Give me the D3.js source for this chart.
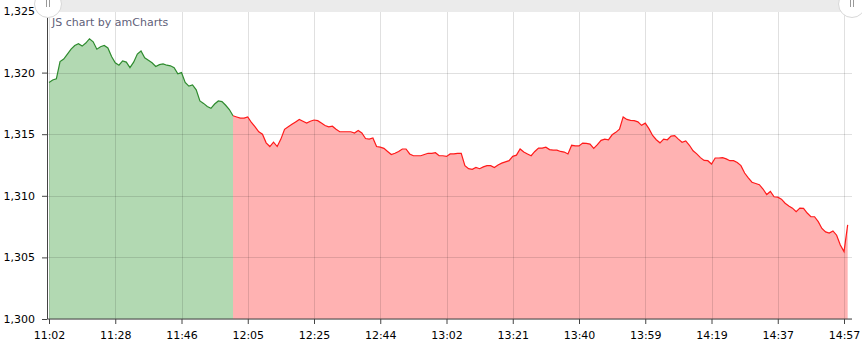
<!DOCTYPE html>
<html>
<head>
<meta charset="utf-8">
<script src="https://cdn.jsdelivr.net/npm/d3@7/dist/d3.min.js"></script>
<style>
  body { margin: 0; background: #fff; }
  svg text { font-family: "DejaVu Sans", Verdana, sans-serif; font-size: 11px; }
</style>
</head>
<body>
<div class="chart"></div>
<script>
// x-axis labels, one every 18 points
const tickLabels = ['11:02', '11:28', '11:46', '12:05', '12:25', '12:44', '13:02',
                    '13:21', '13:40', '13:59', '14:19', '14:37', '14:57'];
const tickEvery = 18;

// yAxis ticks
const yTicks = [1300, 1305, 1310, 1315, 1320, 1325];

// price per point
const prices = [
  1319.2, 1319.4, 1319.5, 1320.9, 1321.1, 1321.5, 1321.9, 1322.2, 1322.35, 1322.15,
  1322.4, 1322.75, 1322.5, 1321.9, 1322.1, 1322.2, 1322.0, 1321.3, 1320.8, 1320.6,
  1320.95, 1320.85, 1320.4, 1320.85, 1321.5, 1321.75, 1321.2, 1321.0, 1320.8, 1320.5,
  1320.65, 1320.7, 1320.6, 1320.55, 1320.4, 1319.9, 1320.0, 1319.2, 1318.9, 1319.0,
  1318.6, 1317.7, 1317.5, 1317.25, 1317.1, 1317.45, 1317.7, 1317.65, 1317.35, 1317.0,
  1316.5, 1316.4, 1316.3, 1316.3, 1316.4, 1315.95, 1315.6, 1315.2, 1315.0, 1314.3,
  1314.0, 1314.35, 1314.0, 1314.6, 1315.4, 1315.6, 1315.8, 1316.0, 1316.2, 1316.05,
  1315.9, 1316.05, 1316.15, 1316.1, 1315.9, 1315.7, 1315.6, 1315.65, 1315.4, 1315.2,
  1315.2, 1315.2, 1315.2, 1315.1, 1315.3, 1315.1, 1314.65, 1314.6, 1314.7, 1314.0,
  1313.95, 1313.85, 1313.6, 1313.35, 1313.45, 1313.6, 1313.8, 1313.8, 1313.4, 1313.25,
  1313.25, 1313.25, 1313.35, 1313.45, 1313.45, 1313.5, 1313.25, 1313.25, 1313.2, 1313.4,
  1313.4, 1313.45, 1313.45, 1312.45, 1312.2, 1312.15, 1312.3, 1312.2, 1312.35, 1312.45,
  1312.45, 1312.3, 1312.5, 1312.65, 1312.75, 1312.85, 1313.2, 1313.3, 1313.8, 1313.55,
  1313.4, 1313.25, 1313.6, 1313.87, 1313.87, 1313.95, 1313.75, 1313.7, 1313.7, 1313.6,
  1313.55, 1313.4, 1314.1, 1314.05, 1314.05, 1314.28, 1314.25, 1314.2, 1313.85, 1314.15,
  1314.5, 1314.6, 1314.55, 1314.95, 1315.15, 1315.4, 1316.4, 1316.2, 1316.12, 1316.1,
  1316.0, 1315.72, 1315.9, 1315.45, 1314.9, 1314.55, 1314.3, 1314.6, 1314.55, 1314.85,
  1314.88, 1314.6, 1314.35, 1314.45, 1314.1, 1313.65, 1313.4, 1313.1, 1312.87, 1312.85,
  1312.58, 1313.07, 1313.07, 1313.1, 1313.0, 1312.85, 1312.85, 1312.7, 1312.45, 1311.85,
  1311.45, 1311.1, 1311.0, 1310.9, 1310.55, 1310.1, 1310.35, 1309.92, 1309.89, 1309.73,
  1309.4, 1309.18, 1309.0, 1308.72, 1309.0, 1308.98, 1308.6, 1308.3, 1308.3, 1307.9,
  1307.35, 1307.07, 1306.97, 1307.15, 1306.8, 1306.0, 1305.47, 1307.64
];

// point where the colour switches from green to red
const splitIndex = 50;

const margin = ({top: 11, right: 12, bottom: 27, left: 48});
const width = 862 - margin.left - margin.right;
const height = 346 - margin.top - margin.bottom;

const data = prices.map((v, i) => ({i: i, v: v}));

const svg = d3.select('.chart')
              .append('svg')
              .attr('width', 862)
              .attr('height', 346);

const g = svg.append('g')
             .attr('transform', `translate(${margin.left}, ${margin.top})`);

const xScale = d3.scaleLinear()
                 .domain([0, (tickLabels.length - 1) * tickEvery])
                 .range([1, 796]);

const yScale = d3.scaleLinear()
                 .domain([1300, 1325])
                 .range([height, 0]);

const area = d3.area()
               .x(d => xScale(d.i))
               .y0(yScale(1300))
               .y1(d => yScale(d.v));

const line = d3.line()
               .x(d => xScale(d.i))
               .y(d => yScale(d.v));

const green = data.slice(0, splitIndex + 1);
const red = data.slice(splitIndex);

g.append('path').datum(green).attr('d', area).attr('fill', '#008000').attr('fill-opacity', 0.3);
g.append('path').datum(red).attr('d', area).attr('fill', '#ff0000').attr('fill-opacity', 0.3);

// grid on top of the fill
const tickIdx = tickLabels.map((d, i) => i * tickEvery);

g.append('g')
  .selectAll('line')
  .data(yTicks)
  .enter()
  .append('line')
  .attr('x1', 0)
  .attr('x2', width + 2)
  .attr('y1', d => Math.round(yScale(d)) + 0.5)
  .attr('y2', d => Math.round(yScale(d)) + 0.5)
  .attr('stroke', '#000')
  .attr('stroke-opacity', 0.12);

g.append('g')
  .selectAll('line')
  .data(tickIdx)
  .enter()
  .append('line')
  .attr('x1', d => Math.round(xScale(d)) + 0.5)
  .attr('x2', d => Math.round(xScale(d)) + 0.5)
  .attr('y1', 0)
  .attr('y2', height)
  .attr('stroke', '#000')
  .attr('stroke-opacity', 0.12);

g.append('path').datum(green).attr('d', line)
  .attr('fill', 'none').attr('stroke', '#2e8b2e').attr('stroke-width', 1.2);
g.append('path').datum(red).attr('d', line)
  .attr('fill', 'none').attr('stroke', '#ff1a1a').attr('stroke-width', 1.2);

const xAxis = d3.axisBottom()
                .scale(xScale)
                .tickValues(tickIdx)
                .tickFormat((d, i) => tickLabels[i])
                .tickSize(5)
                .tickSizeOuter(0)
                .tickPadding(7);

const yAxis = d3.axisLeft()
                .scale(yScale)
                .tickValues(yTicks)
                .tickFormat(d3.format(','))
                .tickSize(5)
                .tickSizeOuter(0)
                .tickPadding(7);

const gx = g.append('g')
  .attr('class', 'axis x-axis')
  .attr('transform', `translate(0, ${height})`)
  .call(xAxis);

const gy = g.append('g')
  .attr('class', 'axis y-axis')
  .attr('transform', 'translate(-1, 0)')
  .call(yAxis);

gx.select('.domain').attr('d', `M0,0H${width + 2}`);
[gx, gy].forEach(a => {
  a.select('.domain').attr('stroke', '#444');
  a.selectAll('.tick line').attr('stroke', '#444');
  a.selectAll('.tick text').attr('fill', '#000').style('font-size', '11px')
    .style('font-family', '"DejaVu Sans", Verdana, sans-serif');
});
gx.selectAll('.tick text').attr('dy', '0.71em');

// scrollbar strip on top
svg.append('rect')
   .attr('x', margin.left)
   .attr('y', 0)
   .attr('width', width + 2)
   .attr('height', 12)
   .attr('fill', '#ebebeb');

[margin.left, margin.left + width + 2].forEach(cx => {
  svg.append('circle')
     .attr('cx', cx)
     .attr('cy', 4)
     .attr('r', 13.5)
     .attr('fill', '#fff')
     .attr('stroke', '#d8d8d8')
     .attr('stroke-width', 1);
  svg.append('path')
     .attr('d', `M${cx - 1.5},0V7M${cx + 1.5},0V7`)
     .attr('stroke', '#999')
     .attr('stroke-width', 1);
});

svg.append('text')
   .attr('x', 52)
   .attr('y', 26)
   .attr('fill', '#5f5f7a')
   .style('font-size', '11px')
   .text('JS chart by amCharts');
</script>
</body>
</html>
